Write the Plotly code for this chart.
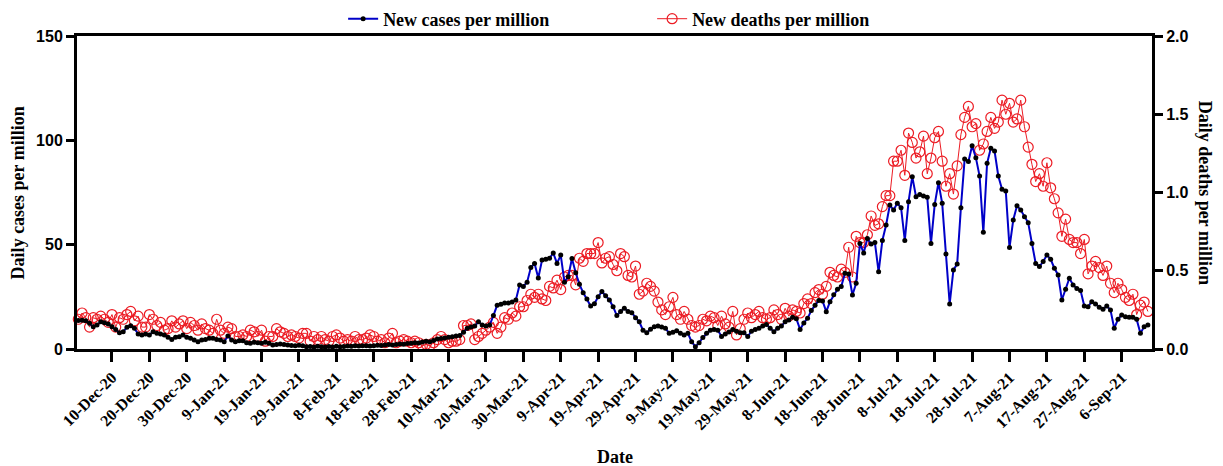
import pandas as pd
import plotly.graph_objects as go

# Daily series, one value per day starting 1 Dec 2020
start_date = "2020-12-01"

new_cases_per_million = [
    13.6, 13.8, 13.5, 12.3, 10.7, 11.5, 13.0, 12.6, 12.0, 10.7,
    9.4, 7.8, 8.3, 10.4, 11.2, 9.9, 7.2, 6.7, 7.2, 6.7,
    8.3, 7.5, 7.2, 6.7, 5.6, 4.6, 5.6, 5.9, 6.7, 5.6,
    5.1, 4.3, 3.5, 4.3, 4.6, 5.1, 5.1, 4.6, 4.3, 3.5,
    6.2, 4.3, 3.5, 4.0, 4.0, 3.0, 2.7, 3.2, 3.0, 2.7,
    3.2, 2.7, 1.9, 2.2, 2.4, 2.2, 1.9, 1.7, 1.5, 1.8,
    1.6, 1.1, 1.2, 1.0, 1.3, 1.1, 0.9, 1.2, 1.0, 1.3,
    1.1, 1.2, 1.4, 1.3, 1.5, 1.4, 1.6, 1.5, 1.4, 1.6,
    1.8, 1.7, 1.9, 2.1, 1.9, 2.2, 2.4, 2.3, 2.6, 2.8,
    3.0, 2.9, 3.3, 3.7, 3.5, 4.1, 4.8, 5.0, 5.3, 5.6,
    5.9, 6.2, 6.5, 8.0, 10.0, 10.5, 11.0, 13.0, 11.5, 11.0,
    11.5, 16.0, 21.0, 21.5, 22.0, 22.0, 22.5, 23.5, 30.7, 30.0,
    32.0, 39.0, 41.0, 34.0, 42.6, 43.0, 43.5, 46.0, 41.0, 45.0,
    32.0, 34.6, 43.4, 36.5, 31.0, 27.0, 24.0, 20.6, 21.7, 25.0,
    27.5, 25.5, 23.5, 20.3, 16.0, 18.0, 19.5, 18.0, 17.4, 15.0,
    13.0, 9.0, 7.8, 9.5, 10.7, 11.0, 10.5, 10.0, 7.5, 8.0,
    8.8, 7.5, 6.7, 7.5, 3.5, 1.1, 3.0, 5.5, 7.5, 9.0,
    9.4, 9.0, 6.0, 7.2, 8.2, 9.4, 8.5, 7.8, 7.8, 6.0,
    8.5, 9.4, 10.0, 11.0, 11.8, 10.0, 8.3, 10.0, 11.0, 13.0,
    13.9, 15.2, 14.5, 9.4, 12.5, 14.7, 18.4, 21.0, 23.2, 23.0,
    17.9, 22.7, 26.0, 28.6, 29.9, 36.3, 36.0, 25.9, 31.5, 50.6,
    46.0, 53.0, 50.3, 51.0, 37.0, 52.0, 59.4, 69.0, 66.6, 69.8,
    67.7, 52.0, 70.6, 82.6, 73.0, 74.0, 73.3, 72.7, 50.6, 69.3,
    79.7, 69.8, 45.5, 21.6, 37.9, 40.7, 67.7, 91.0, 89.8, 97.4,
    91.7, 82.9, 55.9, 89.0, 96.2, 94.9, 82.9, 76.5, 75.7, 48.6,
    61.8, 68.7, 66.6, 63.4, 60.5, 50.6, 41.0, 39.5, 41.9, 45.0,
    43.0, 38.7, 35.5, 23.5, 28.6, 33.9, 30.7, 29.0, 28.0, 20.6,
    20.3, 22.7, 21.6, 20.0, 19.0, 20.6, 18.7, 9.9, 14.2, 16.3,
    15.5, 15.2, 15.2, 14.2, 7.5, 10.7, 11.5,
]

new_deaths_per_million = [
    0.19, 0.23, 0.20, 0.14, 0.20, 0.19, 0.21, 0.19, 0.17, 0.22,
    0.14, 0.20, 0.19, 0.22, 0.24, 0.18, 0.21, 0.14, 0.14, 0.22,
    0.19, 0.15, 0.17, 0.12, 0.13, 0.18, 0.14, 0.16, 0.18, 0.13,
    0.17, 0.15, 0.12, 0.16, 0.13, 0.12, 0.10, 0.19, 0.12, 0.10,
    0.14, 0.13, 0.08, 0.08, 0.09, 0.08, 0.12, 0.11, 0.08, 0.12,
    0.05, 0.08, 0.08, 0.13, 0.11, 0.10, 0.08, 0.09, 0.08, 0.07,
    0.10, 0.10, 0.05, 0.08, 0.06, 0.08, 0.06, 0.05, 0.08, 0.09,
    0.07, 0.05, 0.06, 0.05, 0.08, 0.06, 0.06, 0.07, 0.09, 0.08,
    0.05, 0.06, 0.04, 0.07, 0.10, 0.04, 0.05, 0.06, 0.05, 0.04,
    0.05, 0.04, 0.02, 0.03, 0.02, 0.04, 0.06, 0.08, 0.06, 0.04,
    0.05, 0.05, 0.06, 0.15, 0.15, 0.16, 0.06, 0.08, 0.10, 0.12,
    0.14, 0.17, 0.10, 0.14, 0.20, 0.19, 0.23, 0.21, 0.27, 0.27,
    0.31, 0.35, 0.33, 0.35, 0.32, 0.31, 0.40, 0.39, 0.44, 0.38,
    0.46, 0.47, 0.47, 0.41, 0.58, 0.56, 0.61, 0.61, 0.61, 0.68,
    0.55, 0.58, 0.59, 0.54, 0.50, 0.61, 0.59, 0.47, 0.46, 0.53,
    0.35, 0.37, 0.42, 0.40, 0.37, 0.30, 0.25, 0.22, 0.27, 0.33,
    0.22, 0.19, 0.24, 0.19, 0.15, 0.14, 0.15, 0.19, 0.18, 0.21,
    0.20, 0.15, 0.21, 0.16, 0.14, 0.24, 0.09, 0.13, 0.19, 0.23,
    0.20, 0.22, 0.24, 0.20, 0.19, 0.20, 0.25, 0.22, 0.19, 0.26,
    0.21, 0.25, 0.24, 0.23, 0.29, 0.32, 0.29, 0.36, 0.38, 0.35,
    0.40, 0.49, 0.47, 0.46, 0.51, 0.49, 0.65, 0.46, 0.72, 0.68,
    0.68, 0.73, 0.85, 0.79, 0.80, 0.91, 0.98, 0.98, 1.20, 1.20,
    1.27, 1.11, 1.38, 1.32, 1.22, 1.26, 1.36, 1.12, 1.22, 1.35,
    1.39, 1.20, 1.04, 1.12, 0.99, 1.17, 1.37, 1.48, 1.55, 1.42,
    1.44, 1.27, 1.31, 1.39, 1.48, 1.41, 1.45, 1.59, 1.50, 1.57,
    1.45, 1.47, 1.59, 1.42, 1.29, 1.18, 1.07, 1.12, 1.04, 1.19,
    1.03, 0.96, 0.87, 0.72, 0.83, 0.70, 0.68, 0.68, 0.61, 0.70,
    0.48, 0.53, 0.56, 0.52, 0.47, 0.53, 0.42, 0.36, 0.42, 0.38,
    0.33, 0.31, 0.35, 0.22, 0.28, 0.30, 0.24,
]

date_tick_labels = [
    "10-Dec-20", "20-Dec-20", "30-Dec-20", "9-Jan-21", "19-Jan-21", "29-Jan-21",
    "8-Feb-21", "18-Feb-21", "28-Feb-21", "10-Mar-21", "20-Mar-21", "30-Mar-21",
    "9-Apr-21", "19-Apr-21", "29-Apr-21", "9-May-21", "19-May-21", "29-May-21",
    "8-Jun-21", "18-Jun-21", "28-Jun-21", "8-Jul-21", "18-Jul-21", "28-Jul-21",
    "7-Aug-21", "17-Aug-21", "27-Aug-21", "6-Sep-21",
]

cases_ticks = [0, 50, 100, 150]
deaths_ticks = [0.0, 0.5, 1.0, 1.5, 2.0]

dates = pd.date_range(start_date, periods=len(new_cases_per_million), freq="D")
tick_dates = pd.to_datetime(date_tick_labels, format="%d-%b-%y")

SERIF = "Liberation Serif, Times New Roman, serif"
SANS = "Liberation Sans, Arial, sans-serif"
BLUE = "#0000c8"
RED = "#ec1c24"

fig = go.Figure()

# Deaths on the primary (right-hand) axis, cases overlaid on top with the left axis
fig.add_trace(go.Scatter(
    x=dates, y=new_deaths_per_million, name="New deaths per million",
    mode="lines+markers", yaxis="y", legendrank=2, cliponaxis=False,
    line=dict(color=RED, width=1),
    marker=dict(symbol="circle-open", size=10, color=RED, line=dict(width=1.2, color=RED)),
))
fig.add_trace(go.Scatter(
    x=dates, y=new_cases_per_million, name="New cases per million",
    mode="lines+markers", yaxis="y2", legendrank=1, cliponaxis=False,
    line=dict(color=BLUE, width=2),
    marker=dict(symbol="circle", size=5, color="black"),
))

axis_common = dict(
    showline=True, linewidth=3, linecolor="black",
    ticks="outside", tickwidth=3, tickcolor="black",
    showgrid=False, zeroline=False,
)

fig.update_layout(
    width=1223, height=466,
    margin=dict(l=77, r=71, t=36, b=117, autoexpand=False),
    plot_bgcolor="white", paper_bgcolor="white",
    showlegend=True,
    legend=dict(
        orientation="h", x=0.535, xanchor="center",
        yref="container", y=1 - 19 / 466, yanchor="middle",
        font=dict(family=SERIF, size=18, color="black", weight="bold"),
        entrywidth=264, entrywidthmode="pixels",
        bgcolor="rgba(0,0,0,0)",
    ),
    xaxis=dict(
        **axis_common,
        type="date",
        range=["2020-11-30 15:36", "2021-09-14 02:24"],
        tickvals=tick_dates, ticktext=date_tick_labels,
        tickangle=-45, ticklen=10,
        tickfont=dict(family=SERIF, size=16, color="black", weight="bold"),
        mirror=True,
    ),
    yaxis=dict(
        **axis_common,
        side="right", range=[0, 2.0],
        tickvals=deaths_ticks, ticktext=[f"{v:.1f}" for v in deaths_ticks],
        ticklen=8,
        tickfont=dict(family=SANS, size=16, color="black", weight="bold"),
    ),
    yaxis2=dict(
        **axis_common,
        side="left", overlaying="y", range=[0, 150],
        tickvals=cases_ticks, ticklen=8,
        tickfont=dict(family=SANS, size=16, color="black", weight="bold"),
    ),
    annotations=[
        dict(text="Daily cases per million", xref="paper", yref="paper",
             x=-0.055, y=0.5, xanchor="center", yanchor="middle", textangle=-90,
             showarrow=False, font=dict(family=SERIF, size=18, color="black", weight="bold")),
        dict(text="Daily deaths per million", xref="paper", yref="paper",
             x=1.05, y=0.5, xanchor="center", yanchor="middle", textangle=90,
             showarrow=False, font=dict(family=SERIF, size=18, color="black", weight="bold")),
        dict(text="Date", xref="paper", yref="paper",
             x=0.5, y=-0.345, xanchor="center", yanchor="middle",
             showarrow=False, font=dict(family=SERIF, size=18, color="black", weight="bold")),
    ],
)

fig.write_html("out.html")
